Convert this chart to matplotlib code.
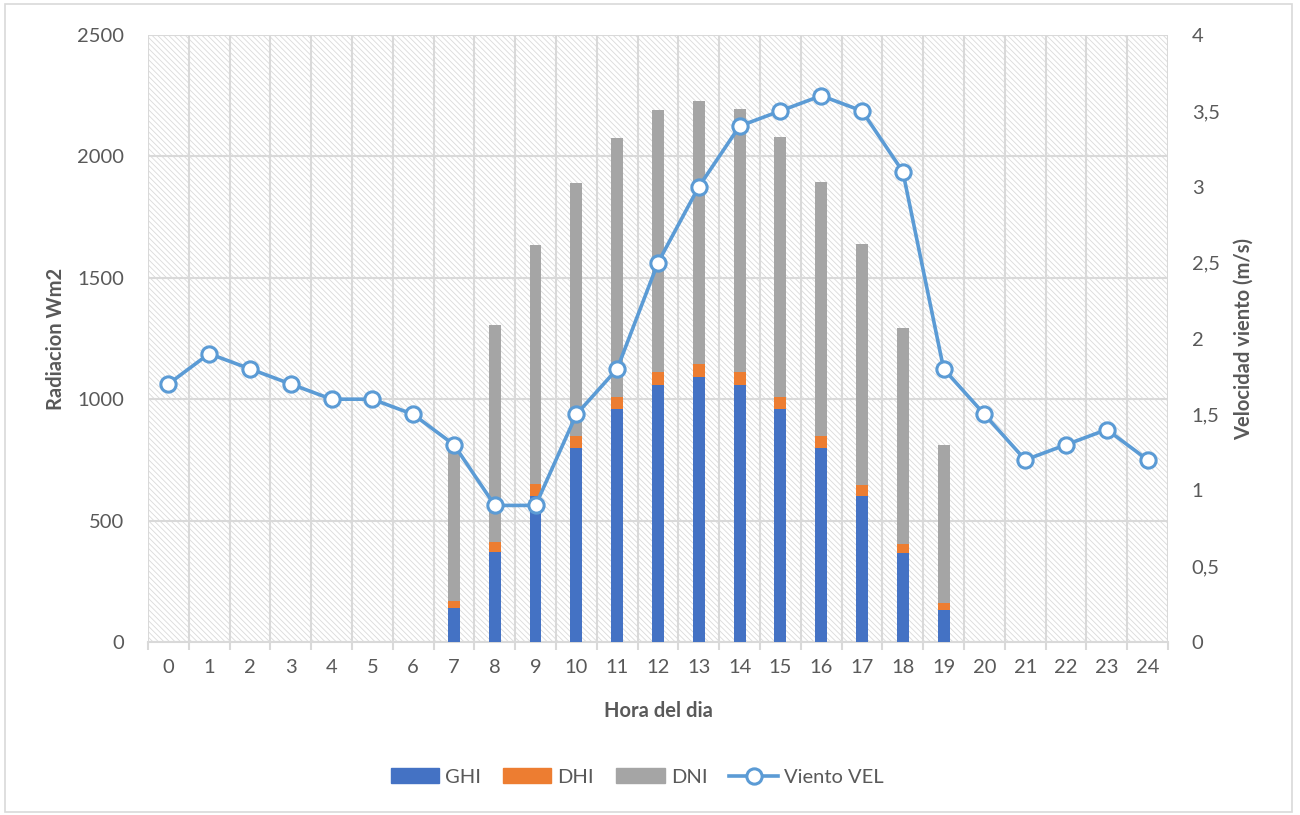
import numpy as np
import matplotlib
matplotlib.use("Agg")
import matplotlib.pyplot as plt
from matplotlib.patches import Rectangle
from matplotlib.lines import Line2D
from matplotlib.ticker import FuncFormatter

plt.rcParams['font.family'] = ['Lato', 'DejaVu Sans']

# data
horas = list(range(25))
horas_sol = list(range(7, 20))
ghi = [140, 370, 600, 800, 960, 1060, 1090, 1060, 960, 800, 600, 365, 130]
dhi = [30, 40, 50, 50, 50, 50, 55, 50, 50, 50, 48, 40, 30]
dni = [625, 895, 985, 1040, 1065, 1080, 1085, 1085, 1070, 1045, 990, 890, 650]
viento = [1.7, 1.9, 1.8, 1.7, 1.6, 1.6, 1.5, 1.3, 0.9, 0.9, 1.5, 1.8, 2.5,
          3.0, 3.4, 3.5, 3.6, 3.5, 3.1, 1.8, 1.5, 1.2, 1.3, 1.4, 1.2]

c_ghi = '#4472c4'
c_dhi = '#ed7d31'
c_dni = '#a5a5a5'
c_line = '#5b9bd5'
c_grid = '#d9d9d9'
c_text = '#595959'
fs = 14.5

fig = plt.figure(figsize=(13, 8.15), dpi=100)
ax = fig.add_axes([0.1138, 0.2123, 0.7847, 0.7447])

# hatched plot area background
plt.rcParams['hatch.linewidth'] = 0.6
bg = Rectangle((0, 0), 1, 1, transform=ax.transAxes, facecolor='white',
               edgecolor='#dadada', linewidth=0, hatch='\\' * 6, zorder=0)
ax.add_patch(bg)
ax.patch.set_visible(False)

ghi = np.array(ghi)
dhi = np.array(dhi)
dni = np.array(dni)
w = 0.29
ax.bar(horas_sol, ghi, width=w, color=c_ghi, zorder=3)
ax.bar(horas_sol, dhi, width=w, bottom=ghi, color=c_dhi, zorder=3)
ax.bar(horas_sol, dni, width=w, bottom=ghi + dhi, color=c_dni, zorder=3)

ax.set_xlim(-0.5, 24.5)
ax.set_ylim(0, 2500)
ax.set_xticks(horas)
ax.set_xticks(np.arange(-0.5, 25, 1), minor=True)
ax.set_yticks(range(0, 2501, 500))
ax.tick_params(axis='x', which='major', length=0, pad=12, labelsize=fs, labelcolor=c_text)
ax.tick_params(axis='x', which='minor', length=6, width=1.5, color=c_grid)
ax.tick_params(axis='y', length=0, pad=17, labelsize=fs, labelcolor=c_text)
ax.grid(axis='x', which='minor', color=c_grid, linewidth=1.5, zorder=1)
ax.grid(axis='y', which='major', color=c_grid, linewidth=1.5, zorder=1)
ax.set_axisbelow(True)
for s in ['top', 'left', 'right']:
    ax.spines[s].set_visible(False)
ax.spines['bottom'].set_color(c_grid)
ax.spines['bottom'].set_linewidth(1.5)

ax.set_xlabel('Hora del dia', fontsize=fs, fontweight='bold', color=c_text, labelpad=18)
ax.set_ylabel('Radiacion Wm2', fontsize=fs, fontweight='bold', color=c_text, labelpad=8)

ax2 = ax.twinx()
ax2.plot(horas, viento, color=c_line, linewidth=2.6, marker='o', markersize=11,
         markerfacecolor='white', markeredgecolor=c_line, markeredgewidth=2.2, zorder=5)
ax2.set_ylim(0, 4)
ax2.set_yticks(np.arange(0, 4.01, 0.5))
ax2.yaxis.set_major_formatter(FuncFormatter(lambda v, p: ('%g' % v).replace('.', ',')))
ax2.tick_params(axis='y', length=0, pad=17, labelsize=fs, labelcolor=c_text)
for s in ax2.spines.values():
    s.set_visible(False)
ax2.set_ylabel('Velocidad viento (m/s)', fontsize=fs, fontweight='bold', color=c_text, labelpad=10)

handles = [Rectangle((0, 0), 1, 1, color=c_ghi),
           Rectangle((0, 0), 1, 1, color=c_dhi),
           Rectangle((0, 0), 1, 1, color=c_dni),
           Line2D([0], [0], color=c_line, linewidth=2.6, marker='o', markersize=11,
                  markerfacecolor='white', markeredgecolor=c_line, markeredgewidth=2.2)]
fig.legend(handles, ['GHI', 'DHI', 'DNI', 'Viento VEL'], loc='center',
           bbox_to_anchor=(0.49, 1 - 777 / 815), ncol=4, frameon=False,
           fontsize=fs, labelcolor=c_text, handlelength=2.4, handleheight=0.75,
           columnspacing=1.1, handletextpad=0.3)

fig.patches.append(Rectangle((5 / 1300, 3 / 815), 1287 / 1300, 808 / 815,
                             transform=fig.transFigure, fill=False,
                             edgecolor=c_grid, linewidth=1.2))

fig.savefig('out.png', dpi=100, facecolor='white')
